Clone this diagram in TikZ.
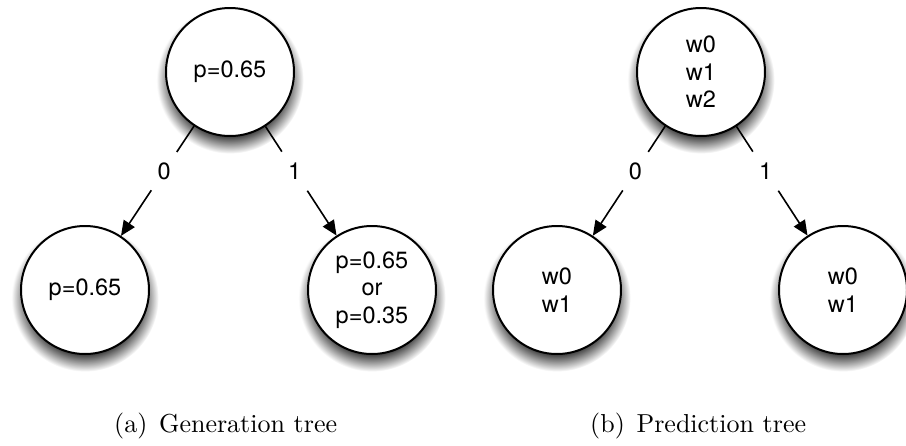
\documentclass[tikz,border=0pt]{standalone}
\usepackage{fontspec}
\newfontfamily\hv{TeX Gyre Heros}
\newfontfamily\capfont{lmroman10-regular.otf}
\usetikzlibrary{arrows.meta,shadows,fadings}
\pgfdeclareradialshading{softcircshade}{\pgfpointorigin}{color(0pt)=(pgftransparent!0); color(17.5pt)=(pgftransparent!0); color(25pt)=(pgftransparent!100); color(50pt)=(pgftransparent!100)}
\pgfdeclarefading{soft circle}{\pgfuseshading{softcircshade}}
\tikzset{
  treenode/.style={circle, draw=black, line width=2pt, fill=white, minimum size=128pt, inner sep=0pt,
    align=center, font=\hv\fontsize{23.5}{27.5}\selectfont,
    general shadow={shadow xshift=0pt, shadow yshift=-7pt, shadow scale=1.15, fill=black, opacity=0.95, path fading={soft circle}}},
  branch/.style={rectangle, inner xsep=6pt, inner ysep=16pt, font=\hv\fontsize{23.5}{27.5}\selectfont},
  conn/.style={line width=1.6pt, draw=black},
  arr/.style={conn, -{Triangle[length=15pt,width=13pt]}},
  caption/.style={anchor=base west, inner sep=0pt, font=\capfont\fontsize{26}{30}\selectfont}
}
\begin{document}
\begin{tikzpicture}[x=1pt,y=-1pt]
\useasboundingbox (0,0) rectangle (906,445);
% generation tree
\node[treenode] (t1) at (230,72) {p=0.65};
\node[treenode] (l1) at (85,290) {p=0.65};
\node[treenode] (r1) at (372,290) {p=0.65\\or\\p=0.35};
\path (t1) -- node[branch, pos=0.41] (b10) {0} (l1);
\path (t1) -- node[branch, pos=0.41] (b11) {1} (r1);
\draw[conn] (t1) -- (b10);
\draw[arr] (b10) -- (l1);
\draw[conn] (t1) -- (b11);
\draw[arr] (b11) -- (r1);
% prediction tree
\node[treenode] (t2) at (701,72) {w0\\w1\\w2};
\node[treenode] (l2) at (557,290) {w0\\w1};
\node[treenode] (r2) at (843,290) {w0\\w1};
\path (t2) -- node[branch, pos=0.41] (b20) {0} (l2);
\path (t2) -- node[branch, pos=0.41] (b21) {1} (r2);
\draw[conn] (t2) -- (b20);
\draw[arr] (b20) -- (l2);
\draw[conn] (t2) -- (b21);
\draw[arr] (b21) -- (r2);
% captions
\node[caption] (capa) at (114,432) {(a)\hspace{0.45em}Generation tree};
\node[caption] (capb) at (590,432) {(b)\hspace{0.45em}Prediction tree};
\end{tikzpicture}
\end{document}
